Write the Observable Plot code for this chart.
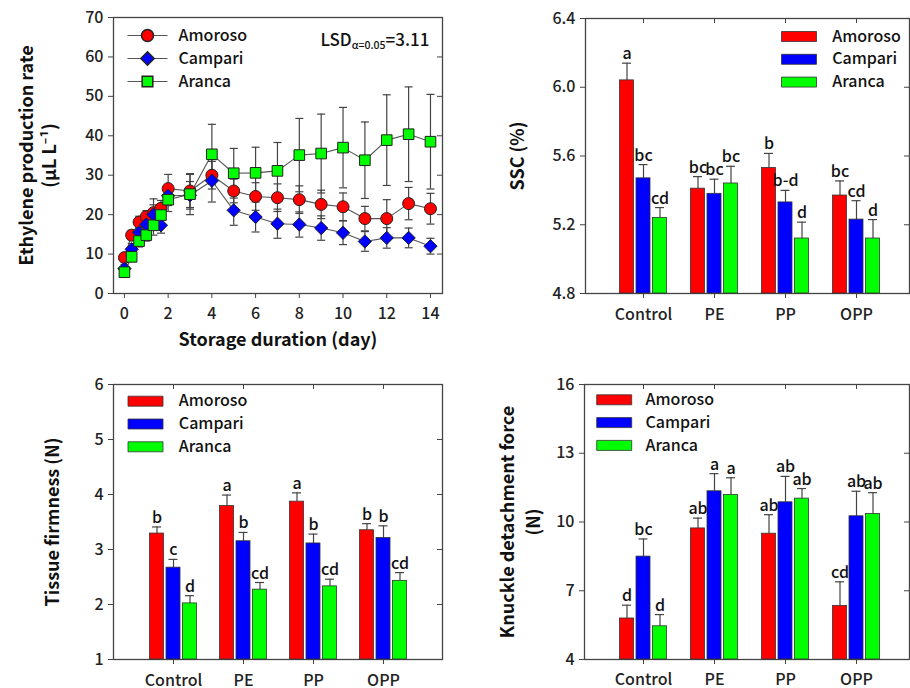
<!DOCTYPE html>
<html><head><meta charset="utf-8">
<script src="https://cdn.jsdelivr.net/npm/d3@7"></script>
<script src="https://cdn.jsdelivr.net/npm/@observablehq/plot@0.6"></script>
<style>
body{margin:0;background:#fff;}
#wrap{position:relative;width:910px;height:688px;overflow:hidden;background:#fff;}
.panel{position:absolute;}
</style></head><body><div id="wrap"></div>
<script>
const FONT = "'Noto Sans CJK KR', 'Noto Sans', sans-serif";

// ---- shared ----
const cultivars = ["Amoroso", "Campari", "Aranca"];
const colors = ["#ff0000", "#0000ff", "#00ff00"];
const markerSymbols = ["circle", "diamond2", "square"];

// ---- Ethylene production rate ----
const days = [0, 0.33, 0.67, 1, 1.33, 1.67, 2, 3, 4, 5, 6, 7, 8, 9, 10, 11, 12, 13, 14];
const ethAmoroso   = [9.1, 14.8, 18.1, 19.5, 20.5, 21.6, 26.6, 26.0, 30.0, 26.0, 24.6, 24.3, 23.8, 22.6, 22.0, 19.0, 19.0, 22.8, 21.5];
const ethAmorosoSd = [1.0, 1.2, 1.5, 1.5, 3.5, 2.0, 3.6, 4.2, 3.5, 3.0, 3.5, 3.5, 3.5, 3.6, 3.5, 3.1, 4.8, 4.1, 3.9];
const ethCampari   = [6.3, 11.2, 15.5, 17.5, 20.0, 17.3, 24.8, 24.9, 28.6, 21.1, 19.4, 17.7, 17.5, 16.6, 15.4, 13.2, 14.1, 14.1, 12.0];
const ethCampariSd = [1.0, 1.5, 1.5, 1.8, 2.5, 2.0, 2.5, 3.5, 5.4, 3.8, 3.8, 3.7, 3.2, 3.1, 3.0, 2.5, 2.6, 2.5, 2.0];
const ethAranca    = [5.4, 9.3, 13.3, 14.8, 17.3, 19.9, 23.8, 25.2, 35.3, 30.5, 30.6, 31.1, 35.1, 35.5, 37.0, 33.8, 38.9, 40.4, 38.5];
const ethArancaSd  = [1.0, 1.2, 1.5, 1.5, 2.5, 2.5, 3.0, 5.2, 7.6, 6.3, 6.5, 7.2, 9.3, 10.0, 10.2, 9.7, 11.5, 12.0, 12.0];
const ethTicksY = [0, 10, 20, 30, 40, 50, 60, 70];
const dayTicks = [0, 2, 4, 6, 8, 10, 12, 14];

// ---- bar panels ----
const treatments = ["Control", "PE", "PP", "OPP"];

const sscAmoroso = [6.04, 5.41, 5.53, 5.37];
const sscAmorosoErr = [0.10, 0.07, 0.085, 0.085];
const sscAmorosoLetters = ["a", "bc", "b", "bc"];
const sscCampari = [5.47, 5.38, 5.33, 5.23];
const sscCampariErr = [0.08, 0.085, 0.07, 0.11];
const sscCampariLetters = ["bc", "bc", "b-d", "cd"];
const sscAranca = [5.24, 5.44, 5.12, 5.12];
const sscArancaErr = [0.06, 0.10, 0.095, 0.11];
const sscArancaLetters = ["cd", "bc", "d", "d"];
const sscTicks = [4.8, 5.2, 5.6, 6.0, 6.4];

const firmAmoroso = [3.29, 3.79, 3.87, 3.35];
const firmAmorosoErr = [0.12, 0.20, 0.16, 0.12];
const firmAmorosoLetters = ["b", "a", "a", "b"];
const firmCampari = [2.67, 3.15, 3.11, 3.21];
const firmCampariErr = [0.15, 0.16, 0.17, 0.22];
const firmCampariLetters = ["c", "b", "b", "b"];
const firmAranca = [2.02, 2.27, 2.33, 2.43];
const firmArancaErr = [0.14, 0.13, 0.13, 0.15];
const firmArancaLetters = ["d", "cd", "cd", "cd"];
const firmTicks = [1, 2, 3, 4, 5, 6];

const kdfAmoroso = [5.79, 9.72, 9.49, 6.34];
const kdfAmorosoErr = [0.58, 0.45, 0.83, 1.05];
const kdfAmorosoLetters = ["d", "ab", "ab", "cd"];
const kdfCampari = [8.49, 11.34, 10.86, 10.25];
const kdfCampariErr = [0.77, 0.77, 1.13, 1.09];
const kdfCampariLetters = ["bc", "a", "ab", "ab"];
const kdfAranca = [5.45, 11.18, 11.02, 10.35];
const kdfArancaErr = [0.51, 0.75, 0.44, 0.93];
const kdfArancaLetters = ["d", "a", "ab", "ab"];
const kdfTicks = [4, 7, 10, 13, 16];

// ---- helpers ----
const hline = (w) => ({draw(ctx) { ctx.moveTo(-w / 2, 0); ctx.lineTo(w / 2, 0); }});
const rectSym = (w, h) => ({draw(ctx) { ctx.rect(-w / 2, -h / 2, w, h); }});
const AX = "#444";
const TW = 500;
const styleBase = {fontFamily: FONT, fontSize: "16px", fontWeight: TW, color: "#222", background: "transparent", overflow: "visible"};

function place(svg, left, top) {
  const d = document.createElement("div");
  d.className = "panel";
  d.style.left = left + "px";
  d.style.top = top + "px";
  d.appendChild(svg);
  document.getElementById("wrap").appendChild(d);
}

function yTitle(lines, dxs, size) {
  return lines.map((t, k) => Plot.text([t], {
    frameAnchor: "left", dx: dxs[k], rotate: -90, text: d => d,
    fontWeight: "bold", fontSize: size, textAnchor: "middle", lineAnchor: "middle", fill: "#111"
  }));
}

// ---- panel 1: line chart ----
function lineChart() {
  const W = 455, H = 360, ML = 113, MR = 13, MT = 17, MB = 67;
  const vals = [ethAmoroso, ethCampari, ethAranca];
  const sds = [ethAmorosoSd, ethCampariSd, ethArancaSd];
  const rows = cultivars.flatMap((c, i) => days.map((d, j) => ({day: d, cultivar: c, value: vals[i][j], sd: sds[i][j]})));
  const fw = W - ML - MR;
  const marks = [
    Plot.frame({stroke: AX, strokeWidth: 1.3}),
    Plot.axisY({ticks: ethTicksY, tickSize: 5, tickPadding: 5, fontSize: 16, label: null, stroke: AX}),
    Plot.axisX({ticks: dayTicks, tickSize: 5, tickPadding: 9, fontSize: 16, label: null, stroke: AX}),
    Plot.tickY(ethTicksY, {y: d => d, insetLeft: fw - 5, stroke: AX}),
    Plot.ruleX(rows, {x: "day", y1: d => d.value - d.sd, y2: d => d.value + d.sd, stroke: AX, strokeWidth: 1.2}),
    Plot.dot(rows, {x: "day", y: d => d.value + d.sd, symbol: hline(8), stroke: AX, fill: "none", strokeWidth: 1.2}),
    Plot.dot(rows, {x: "day", y: d => d.value - d.sd, symbol: hline(8), stroke: AX, fill: "none", strokeWidth: 1.2}),
    Plot.line(rows, {x: "day", y: "value", z: "cultivar", stroke: "#555", strokeWidth: 1.1}),
    ...cultivars.map((c, i) => Plot.dot(rows.filter(r => r.cultivar === c), {
      x: "day", y: "value", symbol: markerSymbols[i], r: 6, fill: colors[i], stroke: "#222", strokeWidth: 1
    })),
    ...cultivars.flatMap((c, i) => [
      Plot.dot([c], {frameAnchor: "top-left", dx: 34, dy: 18 + i * 23, symbol: hline(40), stroke: "#555", fill: "none", strokeWidth: 1.1}),
      Plot.dot([c], {frameAnchor: "top-left", dx: 34, dy: 18 + i * 23, symbol: markerSymbols[i], r: 6, fill: colors[i], stroke: "#222"}),
      Plot.text([c], {frameAnchor: "top-left", dx: 65, dy: 18 + i * 23, text: d => d, textAnchor: "start", lineAnchor: "middle", fontSize: 16, fill: "#111"})
    ]),
    Plot.text(["LSDα=0.05=3.11"], {frameAnchor: "top-left", dx: 207, dy: 28, text: d => d, textAnchor: "start", lineAnchor: "bottom", fontSize: 17, fill: "#111"}),
    Plot.text(["Storage duration (day)"], {frameAnchor: "bottom", dy: 47, text: d => d, fontWeight: "bold", fontSize: 18, lineAnchor: "middle", fill: "#111"}),
    ...yTitle(["Ethylene production rate", "(μL L⁻¹)"], [-86, -63], 18)
  ];
  const svg = Plot.plot({
    width: W, height: H, marginLeft: ML, marginRight: MR, marginTop: MT, marginBottom: MB,
    x: {domain: [-0.5, 14.55]}, y: {domain: [0, 70]}, style: styleBase, marks
  });
  // subscript for LSD
  svg.querySelectorAll("text").forEach(t => {
    if (t.textContent === "LSDα=0.05=3.11") {
      const ns = "http://www.w3.org/2000/svg";
      t.textContent = "LSD";
      const s1 = document.createElementNS(ns, "tspan");
      s1.setAttribute("font-size", "10.5"); s1.setAttribute("dy", "3");
      s1.textContent = "α=0.05";
      const s2 = document.createElementNS(ns, "tspan");
      s2.setAttribute("font-size", "17"); s2.setAttribute("dy", "-3");
      s2.textContent = "=3.11";
      t.appendChild(s1); t.appendChild(s2);
    }
  });
  return svg;
}

// ---- bar panels ----
function barChart(cfg) {
  const {W, H, ML, MR, MT, MB, range, domain, ticks, fmt, vals, errs, letters, legend, titles, titleDx, tickPad} = cfg;
  const fw = W - ML - MR, fh = H - MT - MB;
  const offsets = [-16.5, 0, 16.5];
  const marks = [
    Plot.frame({stroke: AX, strokeWidth: 1.3}),
    Plot.axisY({ticks, tickSize: 5, tickPadding: 5, fontSize: 16, label: null, tickFormat: fmt, stroke: AX}),
    Plot.axisX({tickSize: 5, tickPadding: tickPad, fontSize: 16, label: null, stroke: AX}),
    Plot.tickY(ticks, {y: d => d, insetLeft: fw - 5, stroke: AX}),
    Plot.tickX(treatments, {x: d => d, insetBottom: fh - 5, stroke: AX})
  ];
  cultivars.forEach((c, i) => {
    const rows = treatments.map((t, j) => ({treatment: t, value: vals[i][j], err: errs[i][j], letter: letters[i][j]}));
    marks.push(
      Plot.text(rows, {x: "treatment", y: d => d.value + d.err, text: "letter", dx: offsets[i], dy: -4, lineAnchor: "bottom", fontSize: 16, fill: "#111"}),
      Plot.ruleX(rows, {x: "treatment", y1: "value", y2: d => d.value + d.err, dx: offsets[i], stroke: AX, strokeWidth: 1.2}),
      Plot.tickY(rows, {x: "treatment", y: d => d.value + d.err, dx: offsets[i], inset: 2.5, stroke: AX, strokeWidth: 1.2}),
      Plot.barY(rows, {x: "treatment", y1: domain[0], y2: "value", dx: offsets[i], fill: colors[i], stroke: "#333", strokeWidth: 0.8})
    );
  });
  cultivars.forEach((c, i) => {
    marks.push(
      Plot.dot([c], {frameAnchor: "top-left", dx: legend.rectDx, dy: legend.dy0 + i * 22.8, symbol: rectSym(35, 10), fill: colors[i], stroke: "#333", strokeWidth: 0.8}),
      Plot.text([c], {frameAnchor: "top-left", dx: legend.textDx, dy: legend.dy0 + i * 22.8, text: d => d, textAnchor: "start", lineAnchor: "middle", fontSize: 16, fill: "#111"})
    );
  });
  marks.push(...yTitle(titles, titleDx, 18));
  return Plot.plot({
    width: W, height: H, marginLeft: ML, marginRight: MR, marginTop: MT, marginBottom: MB,
    x: {domain: treatments, range, paddingInner: 0.8, paddingOuter: 0.72},
    y: {domain, ticks},
    style: styleBase, marks
  });
}

place(lineChart(), 0, 0);

place(barChart({
  W: 455, H: 360, ML: 130, MR: 1, MT: 18, MB: 67, range: [130, 460], domain: [4.8, 6.4], ticks: sscTicks,
  fmt: d3.format(".1f"), tickPad: 10,
  vals: [sscAmoroso, sscCampari, sscAranca], errs: [sscAmorosoErr, sscCampariErr, sscArancaErr],
  letters: [sscAmorosoLetters, sscCampariLetters, sscArancaLetters],
  legend: {rectDx: 213.5, textDx: 246.7, dy0: 18},
  titles: ["SSC (%)"], titleDx: [-67.5]
}), 455, 0);

place(barChart({
  W: 455, H: 328, ML: 113, MR: 13, MT: 24, MB: 29, range: [113, 442], domain: [1, 6], ticks: firmTicks,
  fmt: d3.format("d"), tickPad: 10,
  vals: [firmAmoroso, firmCampari, firmAranca], errs: [firmAmorosoErr, firmCampariErr, firmArancaErr],
  letters: [firmAmorosoLetters, firmCampariLetters, firmArancaLetters],
  legend: {rectDx: 32, textDx: 65.3, dy0: 16.7},
  titles: ["Tissue firmness (N)"], titleDx: [-60.5]
}), 0, 360);

place(barChart({
  W: 455, H: 328, ML: 129, MR: 1, MT: 24, MB: 29, range: [130, 460], domain: [4, 16], ticks: kdfTicks,
  fmt: d3.format("d"), tickPad: 9,
  vals: [kdfAmoroso, kdfCampari, kdfAranca], errs: [kdfAmorosoErr, kdfCampariErr, kdfArancaErr],
  letters: [kdfAmorosoLetters, kdfCampariLetters, kdfArancaLetters],
  legend: {rectDx: 29.7, textDx: 61, dy0: 15.3},
  titles: ["Knuckle detachment force", "(N)"], titleDx: [-76.5, -50.5]
}), 455, 360);
</script>
</body></html>
